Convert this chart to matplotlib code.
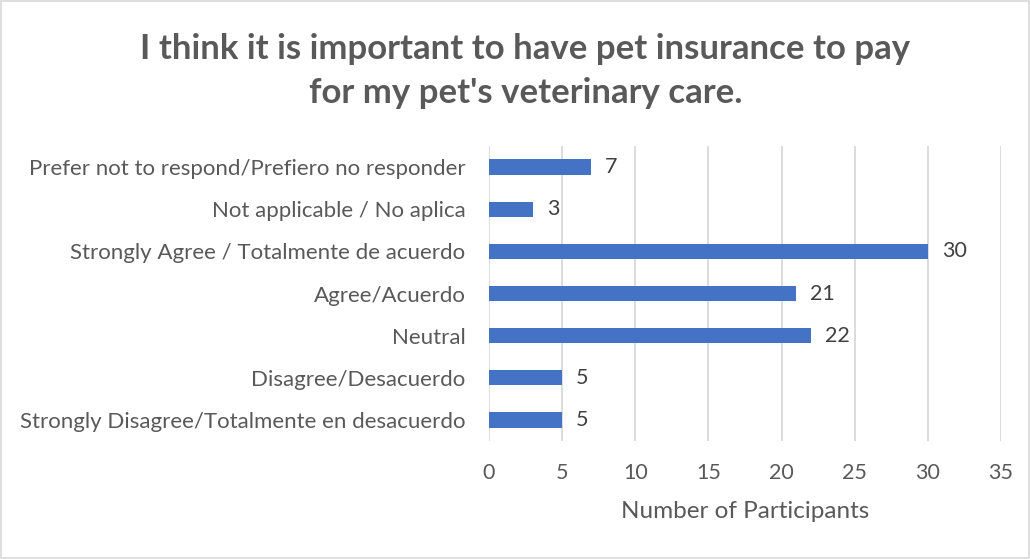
import matplotlib
matplotlib.use("Agg")
import matplotlib.pyplot as plt
from matplotlib.patches import Rectangle

categories = [
    "Strongly Disagree/Totalmente en desacuerdo",
    "Disagree/Desacuerdo",
    "Neutral",
    "Agree/Acuerdo",
    "Strongly Agree / Totalmente de acuerdo",
    "Not applicable / No aplica",
    "Prefer not to respond/Prefiero no responder",
]
values = [5, 5, 22, 21, 30, 3, 7]
x_ticks = [0, 5, 10, 15, 20, 25, 30, 35]

title = "I think it is important to have pet insurance to pay\nfor my pet's veterinary care."
x_label = "Number of Participants"

TEXT = "#595959"
BAR = "#4472C4"
GRID = "#D9D9D9"

plt.rcParams["font.family"] = ["Lato", "DejaVu Sans"]

fig = plt.figure(figsize=(10.30, 5.59), dpi=100)
ax = fig.add_axes([0.4748, 0.2111, 0.4971, 0.5277])

ypos = list(range(len(categories)))
ax.barh(ypos, values, height=0.36, color=BAR, zorder=3)
for y, v in zip(ypos, values):
    ax.text(v + 0.95, y, str(v), va="center", ha="left", fontsize=15.5, color="#404040")

ax.set_xlim(0, 35)
ax.set_ylim(-0.5, len(categories) - 0.5)
ax.set_xticks(x_ticks)
ax.set_xticklabels([str(t) for t in x_ticks])
ax.set_yticks(ypos)
ax.set_yticklabels(categories)
ax.tick_params(axis="both", length=0, labelcolor=TEXT)
ax.tick_params(axis="x", labelsize=15.5, pad=16)
ax.tick_params(axis="y", labelsize=16, pad=17)
ax.grid(axis="x", color=GRID, linewidth=1.3, zorder=0)
for s in ax.spines.values():
    s.set_visible(False)

ax.set_xlabel(x_label, fontsize=17.5, color=TEXT, labelpad=13)

fig.text(0.51, 0.873, title, ha="center", va="center", fontsize=25,
         fontweight="bold", color=TEXT, linespacing=1.45)

fig.patches.append(Rectangle((0.001, 0.001), 0.998, 0.997, transform=fig.transFigure,
                             fill=False, edgecolor="#D9D9D9", linewidth=1.2))

fig.savefig("out.png", dpi=100)
